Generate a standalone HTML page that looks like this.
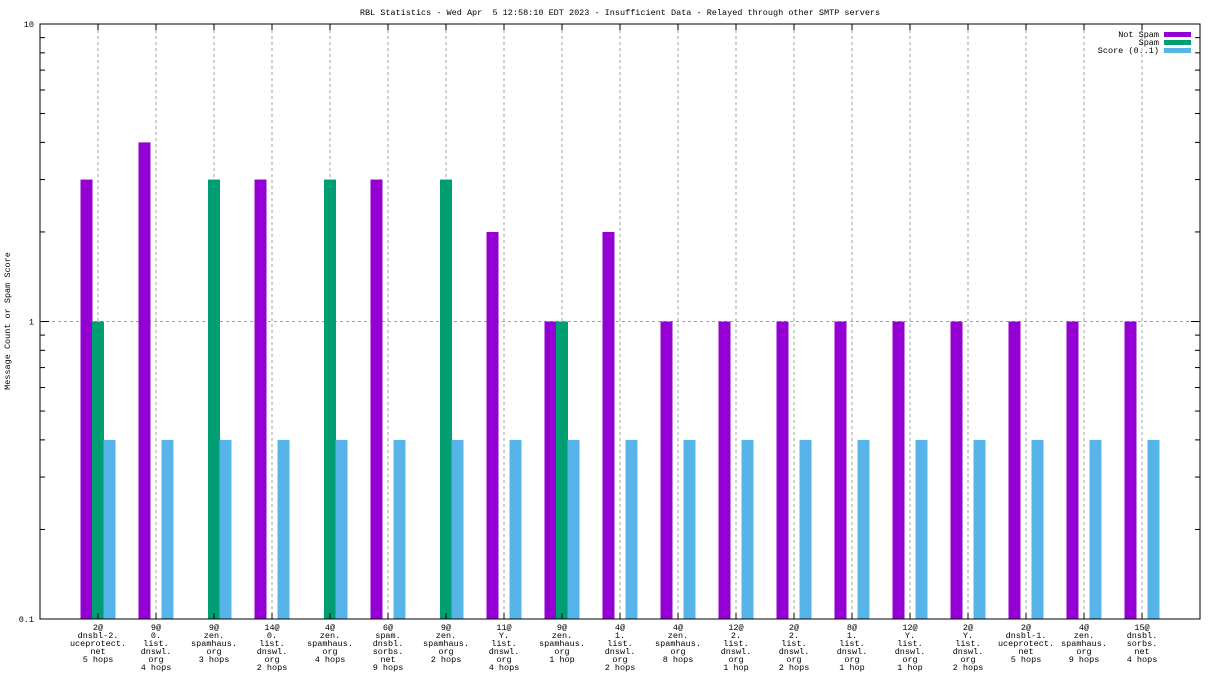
<!DOCTYPE html>
<html><head><meta charset="utf-8"><style>
html,body{margin:0;padding:0;background:#fff;}
svg{display:block;font-family:"Liberation Mono",monospace;}
</style></head><body>
<svg id="chart" width="1216" height="684" viewBox="0 0 1216 684" xmlns="http://www.w3.org/2000/svg">
<rect width="1216" height="684" fill="#fff"/>
<text x="620" y="15" font-size="8.5" text-anchor="middle" xml:space="preserve">RBL Statistics - Wed Apr  5 12:58:10 EDT 2023 - Insufficient Data - Relayed through other SMTP servers</text>
<text transform="translate(10,321) rotate(-90)" font-size="8.5" text-anchor="middle">Message Count or Spam Score</text>
<g id="grid"></g><g id="bars"></g><g id="axes"></g><g id="xlabels"></g>
<g font-size="8.5" text-anchor="end">
<text x="1159" y="37">Not Spam</text>
<rect x="1164" y="32" width="27" height="5" fill="#9400d3"/>
<text x="1159" y="45">Spam</text>
<rect x="1164" y="40" width="27" height="5" fill="#009e73"/>
<text x="1159" y="53">Score (0..1)</text>
<rect x="1164" y="48" width="27" height="5" fill="#56b4e9"/>
</g>
</svg>
<script>
const categories=[
["2@","dnsbl-2.","uceprotect.","net","5 hops"],
["9@","0.","list.","dnswl.","org","4 hops"],
["9@","zen.","spamhaus.","org","3 hops"],
["14@","0.","list.","dnswl.","org","2 hops"],
["4@","zen.","spamhaus.","org","4 hops"],
["6@","spam.","dnsbl.","sorbs.","net","9 hops"],
["9@","zen.","spamhaus.","org","2 hops"],
["11@","Y.","list.","dnswl.","org","4 hops"],
["9@","zen.","spamhaus.","org","1 hop"],
["4@","1.","list.","dnswl.","org","2 hops"],
["4@","zen.","spamhaus.","org","8 hops"],
["12@","2.","list.","dnswl.","org","1 hop"],
["2@","2.","list.","dnswl.","org","2 hops"],
["8@","1.","list.","dnswl.","org","1 hop"],
["12@","Y.","list.","dnswl.","org","1 hop"],
["2@","Y.","list.","dnswl.","org","2 hops"],
["2@","dnsbl-1.","uceprotect.","net","5 hops"],
["4@","zen.","spamhaus.","org","9 hops"],
["15@","dnsbl.","sorbs.","net","4 hops"]];
const notSpam=[3,4,0,3,0,3,0,2,1,2,1,1,1,1,1,1,1,1,1];
const spam=[1,0,3,0,3,0,3,0,1,0,0,0,0,0,0,0,0,0,0];
const score=[0.4,0.4,0.4,0.4,0.4,0.4,0.4,0.4,0.4,0.4,0.4,0.4,0.4,0.4,0.4,0.4,0.4,0.4,0.4];
const yTicks=[0.1,1,10];
const yTickLabels=["0.1","1","10"];

const NS="http://www.w3.org/2000/svg";
const L=40,R=1200,T=24,B=619;
const yMin=0.1,yMax=10;
function y(v){return B-(Math.log10(v)-Math.log10(yMin))/(Math.log10(yMax)-Math.log10(yMin))*(B-T);}
const step=58,x0=98;
function x(i){return x0+i*step;}
function mk(tag,attrs,parent){const e=document.createElementNS(NS,tag);for(const k in attrs)e.setAttribute(k,attrs[k]);parent.appendChild(e);return e;}
const grid=document.getElementById('grid'),bars=document.getElementById('bars'),axes=document.getElementById('axes'),xl=document.getElementById('xlabels');

// horizontal grid at y=1
[1].forEach(v=>{const g=mk('line',{x1:L,x2:R,y1:y(v),y2:y(v),stroke:'#a0a0a0','stroke-dasharray':'3,3'},grid);

});
categories.forEach((c,i)=>{const g=mk('line',{x1:x(i),x2:x(i),y1:T,y2:B,stroke:'#a0a0a0','stroke-dasharray':'3,3'},grid);

});

const series=[[notSpam,'#9400d3',-11.5,'bar-not-spam'],[spam,'#009e73',0,'bar-spam'],[score,'#56b4e9',11.5,'bar-score']];
series.forEach(([arr,col,off,nm])=>{arr.forEach((v,i)=>{if(v<=yMin)return;
const top=y(v);const r=mk('rect',{x:x(i)+off-6,y:top,width:12,height:B-top,fill:col},bars);

});});

const frame=mk('rect',{x:L,y:T,width:R-L,height:B-T,fill:'none',stroke:'#000','stroke-width':1},axes);


// y ticks
yTicks.forEach((v,i)=>{const yy=y(v);
mk('line',{x1:L,x2:L+9,y1:yy,y2:yy,stroke:'#000'},axes);mk('line',{x1:R-9,x2:R,y1:yy,y2:yy,stroke:'#000'},axes);
const t=mk('text',{x:L-6,y:yy+3,'font-size':8.5,'text-anchor':'end'},axes);t.textContent=yTickLabels[i];

});
for(let d=0.1;d<10;d*=10){for(let m=2;m<10;m++){const yy=y(d*m);
mk('line',{x1:L,x2:L+5,y1:yy,y2:yy,stroke:'#000'},axes);mk('line',{x1:R-5,x2:R,y1:yy,y2:yy,stroke:'#000'},axes);}}
// x ticks + labels
categories.forEach((c,i)=>{const xx=x(i);
mk('line',{x1:xx,x2:xx,y1:B,y2:B-6,stroke:'#000'},axes);mk('line',{x1:xx,x2:xx,y1:T,y2:T+6,stroke:'#000'},axes);
const t=mk('text',{x:xx,y:630,'font-size':8.5,'text-anchor':'middle'},xl);


c.forEach((line,j)=>{const s=mk('tspan',{x:xx,dy:j?8:0},t);s.textContent=line;});});
</script>
</body></html>
